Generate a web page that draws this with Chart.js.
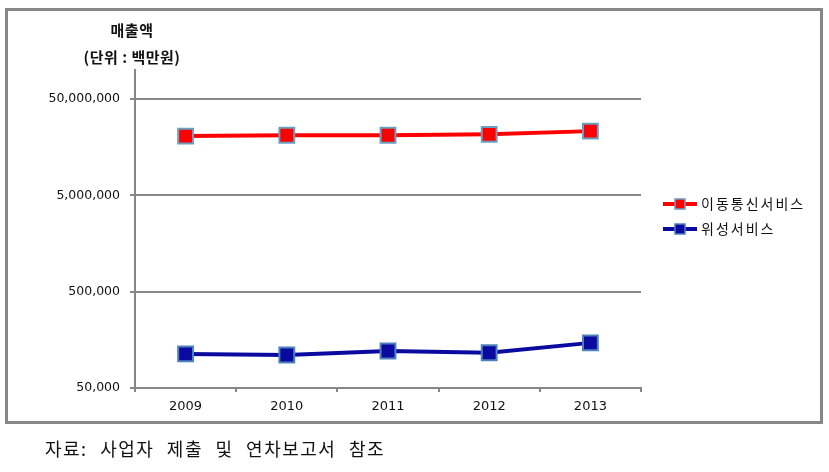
<!DOCTYPE html>
<html>
<head>
<meta charset="utf-8">
<script src="https://cdn.jsdelivr.net/npm/chart.js@4"></script>
<style>
  body { margin: 0; background: #fff; }
  #wrap { position: relative; width: 829px; height: 472px; }
  #frame { position: absolute; left: 5px; top: 8px; width: 818px; height: 416px; box-sizing: border-box; border: 3px solid #878787; }
  #chart { position: absolute; left: 0; top: 0; }
  .ttl { position: absolute; left: 52px; width: 160px; text-align: center; font: bold 15px "Noto Sans CJK KR", "DejaVu Sans", sans-serif; color: #111; letter-spacing: 0.5px; }
  #src { position: absolute; left: 45px; top: 435px; font: 18px "Noto Sans CJK KR", sans-serif; color: #111; letter-spacing: 1.5px; word-spacing: 7px; }
</style>
</head>
<body>
<div id="wrap">
  <div id="frame"></div>
  <canvas id="chart" width="829" height="472"></canvas>
  <div class="ttl" style="top:19px">매출액</div>
  <div class="ttl" style="top:46px">(단위 : 백만원)</div>
  <div id="src">자료: 사업자 제출 및 연차보고서 참조</div>
</div>
<script>
// values in 백만원
var years = ['2009', '2010', '2011', '2012', '2013'];
var mobileSales = [20600000, 21000000, 21000000, 21500000, 23200000];
var satelliteSales = [113000, 110000, 121000, 116000, 147000];
var yTicks = [50000, 500000, 5000000, 50000000];
var seriesNames = ['이동통신서비스', '위성서비스'];

var gray = '#878787';

// legend drawn as line + square marker, like the original
var lineLegend = {
  id: 'lineLegend',
  afterDraw: function (chart) {
    var ctx = chart.ctx;
    var x0 = 663, rows = [204, 229];
    chart.data.datasets.forEach(function (ds, i) {
      var y = rows[i];
      ctx.save();
      ctx.strokeStyle = ds.borderColor;
      ctx.lineWidth = 4;
      ctx.beginPath();
      ctx.moveTo(x0, y);
      ctx.lineTo(x0 + 34, y);
      ctx.stroke();
      ctx.fillStyle = ds.pointBackgroundColor;
      ctx.strokeStyle = ds.pointBorderColor;
      ctx.lineWidth = 1.5;
      ctx.fillRect(x0 + 12, y - 5, 10, 10);
      ctx.strokeRect(x0 + 12, y - 5, 10, 10);
      ctx.fillStyle = '#111';
      ctx.font = '14px "Noto Sans CJK KR", sans-serif';
      ctx.letterSpacing = '2px';
      ctx.textBaseline = 'middle';
      ctx.fillText(ds.label, x0 + 38, y);
      ctx.restore();
    });
  }
};

new Chart(document.getElementById('chart'), {
  type: 'line',
  data: {
    labels: years,
    datasets: [{
      label: seriesNames[0],
      data: mobileSales,
      borderColor: '#ff0000',
      borderWidth: 4,
      pointStyle: 'rect',
      pointRadius: 10.5,
      pointBackgroundColor: '#ff0000',
      pointBorderColor: '#6a9fc0',
      pointBorderWidth: 2,
      tension: 0,
    }, {
      label: seriesNames[1],
      data: satelliteSales,
      borderColor: '#0a0aa0',
      borderWidth: 4,
      pointStyle: 'rect',
      pointRadius: 10.5,
      pointBackgroundColor: '#0a0aa0',
      pointBorderColor: '#4f81bd',
      pointBorderWidth: 2,
      tension: 0,
    }],
  },
  options: {
    responsive: false,
    animation: false,
    layout: { padding: { left: 0, top: 70, right: 188, bottom: 0 } },
    plugins: { legend: { display: false }, tooltip: { enabled: false } },
    scales: {
      x: {
        offset: true,
        grid: { offset: true, drawOnChartArea: false, drawTicks: true, tickLength: 4, color: gray, lineWidth: 2 },
        border: { color: gray, width: 2 },
        ticks: { padding: 7, color: '#111', font: { family: 'DejaVu Sans', size: 13 } },
        afterFit: function (s) { s.height = 84; },
      },
      y: {
        type: 'logarithmic',
        min: 50000,
        max: 100000000,
        afterBuildTicks: function (s) {
          s.ticks = yTicks.map(function (v) { return { value: v }; });
        },
        grid: { color: gray, lineWidth: 2, tickLength: 5 },
        border: { color: gray, width: 2 },
        ticks: {
          padding: 10,
          color: '#111',
          font: { family: 'DejaVu Sans', size: 12.5 },
          callback: function (v) { return Number(v).toLocaleString('en-US'); },
        },
        afterFit: function (s) { s.width = 135; },
      },
    },
  },
  plugins: [lineLegend],
});
</script>
</body>
</html>
